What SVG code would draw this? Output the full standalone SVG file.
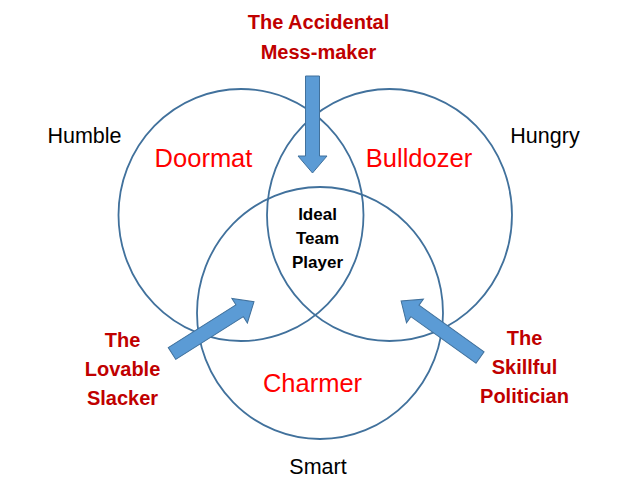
<svg xmlns="http://www.w3.org/2000/svg" xmlns:xlink="http://www.w3.org/1999/xlink" width="630" height="498" viewBox="0 0 630 498">
  <style>
    .ring { fill: none; stroke: #41719C; stroke-width: 1.8; }
    .arrow { fill: #5B9BD5; stroke: #41719C; stroke-width: 1; }
    .trait { font-family: "Liberation Sans", Arial, sans-serif; font-size: 21.5px; fill: #000000; text-anchor: middle; }
    .region { font-family: "Liberation Sans", Arial, sans-serif; font-size: 25.5px; fill: #FF0000; text-anchor: middle; }
    .type { font-family: "Liberation Sans", Arial, sans-serif; font-size: 20px; font-weight: bold; fill: #C00000; text-anchor: middle; }
    .ideal { font-family: "Liberation Sans", Arial, sans-serif; font-size: 17px; font-weight: bold; fill: #000000; text-anchor: middle; }
  </style>
  <defs>
    <path id="blockArrow" d="M0,-7 L80,-7 L80,-14.5 L97,0 L80,14.5 L80,7 L0,7 Z"/>
  </defs>
  <rect x="0" y="0" width="630" height="498" fill="#FFFFFF"/>

  <g id="humble">
    <ellipse class="ring" cx="241" cy="215" rx="122.5" ry="126"/>
    <text class="trait" x="84.5" y="143">Humble</text>
  </g>
  <g id="hungry">
    <ellipse class="ring" cx="389.5" cy="215" rx="122.5" ry="126"/>
    <text class="trait" x="545" y="143">Hungry</text>
  </g>
  <g id="smart">
    <ellipse class="ring" cx="320" cy="313" rx="123" ry="126"/>
    <text class="trait" x="318" y="474">Smart</text>
  </g>

  <g id="doormat">
    <text class="region" x="203.5" y="167">Doormat</text>
  </g>
  <g id="bulldozer">
    <text class="region" x="419" y="167">Bulldozer</text>
  </g>
  <g id="charmer">
    <text class="region" x="312.5" y="392">Charmer</text>
  </g>
  <g id="ideal-team-player">
    <text class="ideal" x="317.5" y="220">Ideal</text>
    <text class="ideal" x="317.5" y="244">Team</text>
    <text class="ideal" x="317.5" y="268">Player</text>
  </g>

  <g id="accidental-mess-maker">
    <text class="type" x="318.5" y="29">The Accidental</text>
    <text class="type" x="318.5" y="59">Mess-maker</text>
  </g>
  <g id="lovable-slacker">
    <text class="type" x="122.5" y="347">The</text>
    <text class="type" x="122.5" y="376">Lovable</text>
    <text class="type" x="122.5" y="405">Slacker</text>
  </g>
  <g id="skillful-politician">
    <text class="type" x="524.5" y="345">The</text>
    <text class="type" x="524.5" y="374">Skillful</text>
    <text class="type" x="524.5" y="403">Politician</text>
  </g>

  <g id="connectors">
    <use xlink:href="#blockArrow" href="#blockArrow" class="arrow" transform="translate(312.5,76) rotate(90)"/>
    <use xlink:href="#blockArrow" href="#blockArrow" class="arrow" transform="translate(172,353.5) rotate(-32.3)"/>
    <use xlink:href="#blockArrow" href="#blockArrow" class="arrow" transform="translate(480,357.5) rotate(-144.4)"/>
  </g>
</svg>
